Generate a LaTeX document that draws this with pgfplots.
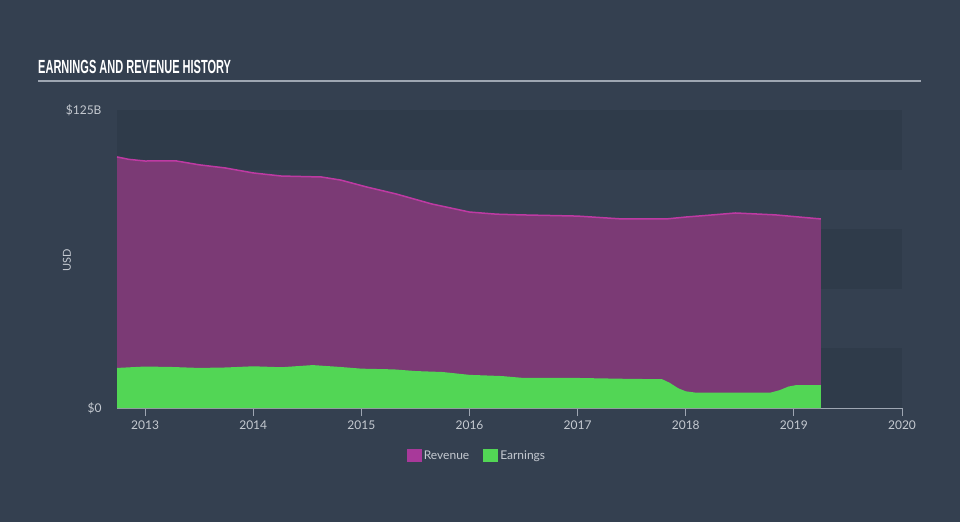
\documentclass[border=0pt]{standalone}
\usepackage{fontspec}
\setmainfont{Lato}
\newfontfamily\titlefont[FakeStretch=0.58]{Liberation Sans}
\usepackage{pgfplots}
\pgfplotsset{compat=1.18}
\definecolor{bgc}{HTML}{344050}
\definecolor{bandc}{HTML}{2F3B4A}
\definecolor{revfill}{HTML}{7B3A75}
\definecolor{revline}{HTML}{BE3AA3}
\definecolor{revleg}{HTML}{A8399A}
\definecolor{earnc}{HTML}{52D655}
\definecolor{tickc}{HTML}{C5CAD1}
\definecolor{axc}{HTML}{9EA6B2}
\begin{document}
\begin{tikzpicture}
\fill[bgc] (0pt,0pt) rectangle (960pt,522pt);
\node[anchor=base west, text=white, inner sep=0pt, font=\titlefont\bfseries\fontsize{19}{22}\selectfont] at (38pt,448pt) {EARNINGS AND REVENUE HISTORY};
\draw[color=axc, line width=1.5pt] (38pt,441pt) -- (921pt,441pt);
\node[rotate=90, text=tickc, font=\fontsize{11}{13}\selectfont] at (67pt,262pt) {USD};
\begin{axis}[
  at={(117pt,114pt)}, anchor=south west,
  scale only axis, width=785pt, height=298pt,
  xmin=2012.74, xmax=2020, ymin=0, ymax=125,
  axis x line*=bottom, axis y line*=left,
  y axis line style={draw=none},
  x axis line style={color=axc, line width=1pt, -},
  xtick={2013,2014,2015,2016,2017,2018,2019,2020},
  xticklabels={2013,2014,2015,2016,2017,2018,2019,2020},
  ytick={0,125}, yticklabels={\$0,\$125B},
  tick align=outside, major tick length=8pt,
  xtick style={color=axc, line width=1pt},
  ytick style={draw=none},
  xticklabel style={text=tickc, font=\fontsize{12}{14}\selectfont, yshift=-1pt},
  yticklabel style={text=tickc, font=\fontsize{12}{14}\selectfont, xshift=-4pt},
  clip=false,
  legend columns=2,
  legend style={at={(0.4586,-0.161)}, anchor=center, draw=none, fill=none,
    text=tickc, font=\fontsize{12}{14}\selectfont,
    /tikz/every even column/.append style={column sep=12pt}},
  legend image code/.code={\fill[#1] (0pt,-6.5pt) rectangle (15pt,6.5pt);},
]
\fill[bandc] (axis cs:2012.74,0) rectangle (axis cs:2020,25);
\fill[bandc] (axis cs:2012.74,50) rectangle (axis cs:2020,75);
\fill[bandc] (axis cs:2012.74,100) rectangle (axis cs:2020,125);
\addplot[fill=revfill, draw=none, forget plot] coordinates {
(2012.74,105.3) (2012.85,104.3) (2013.0,103.6) (2013.28,103.7) (2013.5,102.0) (2013.74,100.7)
(2014.0,98.6) (2014.26,97.3) (2014.63,96.9) (2014.81,95.6) (2015.05,92.7) (2015.32,89.8)
(2015.65,85.6) (2016.0,82.2) (2016.25,81.3) (2016.48,81.0) (2017.0,80.5) (2017.41,79.3)
(2017.82,79.3) (2018.0,80.1) (2018.25,81.0) (2018.46,81.8) (2018.83,81.0) (2019.25,79.3)
} \closedcycle;
\addplot[color=revline, line width=1.5pt, forget plot] coordinates {
(2012.74,105.3) (2012.85,104.3) (2013.0,103.6) (2013.28,103.7) (2013.5,102.0) (2013.74,100.7)
(2014.0,98.6) (2014.26,97.3) (2014.63,96.9) (2014.81,95.6) (2015.05,92.7) (2015.32,89.8)
(2015.65,85.6) (2016.0,82.2) (2016.25,81.3) (2016.48,81.0) (2017.0,80.5) (2017.41,79.3)
(2017.82,79.3) (2018.0,80.1) (2018.25,81.0) (2018.46,81.8) (2018.83,81.0) (2019.25,79.3)
};
\addplot[fill=earnc, draw=none, forget plot] coordinates {
(2012.74,16.8) (2013.0,17.4) (2013.25,17.2) (2013.5,16.8) (2013.75,17.0) (2014.0,17.5)
(2014.26,17.1) (2014.55,18.0) (2014.81,17.2) (2015.0,16.5) (2015.3,16.2) (2015.5,15.5)
(2015.75,15.1) (2016.0,13.9) (2016.3,13.4) (2016.5,12.6) (2017.0,12.6) (2017.5,12.2)
(2017.78,12.1) (2017.85,10.6) (2017.93,8.3) (2018.0,7.0) (2018.1,6.4) (2018.78,6.4)
(2018.87,7.5) (2018.95,9.0) (2019.02,9.6) (2019.25,9.6)
} \closedcycle;
\addlegendimage{fill=revleg, draw=none}
\addlegendentry{Revenue}
\addlegendimage{fill=earnc, draw=none}
\addlegendentry{Earnings}
\end{axis}
\end{tikzpicture}
\end{document}
